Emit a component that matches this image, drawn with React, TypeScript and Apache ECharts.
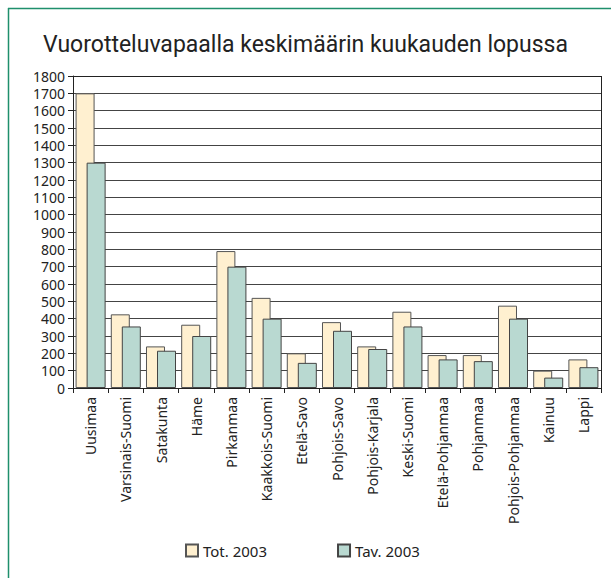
import React, { useEffect, useRef } from "react";
import * as echarts from "echarts";

const categories = [
  "Uusimaa", "Varsinais-Suomi", "Satakunta", "Häme", "Pirkanmaa", "Kaakkois-Suomi",
  "Etelä-Savo", "Pohjois-Savo", "Pohjois-Karjala", "Keski-Suomi", "Etelä-Pohjanmaa",
  "Pohjanmaa", "Pohjois-Pohjanmaa", "Kainuu", "Lappi",
];
const tot2003 = [1700, 425, 240, 365, 790, 520, 200, 380, 240, 440, 190, 190, 475, 100, 165];
const tav2003 = [1300, 355, 215, 300, 700, 400, 145, 330, 225, 355, 165, 155, 400, 60, 120];
const seriesNames = ["Tot. 2003", "Tav. 2003"];
const title = "Vuorotteluvapaalla keskimäärin kuukauden lopussa";

const FONT = "Noto Sans";

export default function App() {
  const ref = useRef<HTMLDivElement>(null);
  useEffect(() => {
    if (!ref.current) return;
    const chart = echarts.init(ref.current, undefined, { renderer: "svg" });
    chart.setOption({
      animation: false,
      backgroundColor: "#ffffff",
      title: {
        text: title,
        left: "center",
        top: 28,
        textStyle: { fontFamily: "Roboto", fontSize: 23, fontWeight: "normal", color: "#222" },
      },
      graphic: [
        { type: "line", shape: { x1: 8, y1: 8.5, x2: 611, y2: 8.5 }, style: { stroke: "#1f8f6c", lineWidth: 1.5 } },
        { type: "line", shape: { x1: 8.5, y1: 8, x2: 8.5, y2: 578 }, style: { stroke: "#1f8f6c", lineWidth: 1.5 } },
      ],
      legend: {
        data: seriesNames,
        left: 180,
        top: 538,
        icon: "rect",
        itemWidth: 12,
        itemHeight: 12,
        itemGap: 70,
        textStyle: { fontFamily: FONT, fontSize: 15, color: "#222" },
      },
      grid: { left: 73, right: 10, top: 76, bottom: 190, containLabel: false },
      xAxis: {
        type: "category",
        data: categories,
        axisLine: { lineStyle: { color: "#222", width: 1 } },
        axisTick: { show: true, length: 5, lineStyle: { color: "#222" } },
        axisLabel: { rotate: 90, margin: 9, fontFamily: FONT, fontSize: 14, color: "#222", interval: 0 },
      },
      yAxis: {
        type: "value",
        min: 0,
        max: 1800,
        interval: 100,
        axisLine: { show: true, lineStyle: { color: "#222", width: 1 } },
        axisTick: { show: true, length: 5, lineStyle: { color: "#222" } },
        axisLabel: {
          fontFamily: FONT,
          fontSize: 14,
          lineHeight: 14,
          color: "#222",
          margin: 8,
          formatter: (v: number) => String(v),
        },
        splitLine: { show: true, lineStyle: { color: "#444", width: 1 } },
      },
      series: [
        {
          name: seriesNames[0],
          type: "bar",
          data: tot2003,
          barWidth: 19,
          barGap: "-42%",
          itemStyle: { color: "#fff0d0", borderColor: "#555", borderWidth: 1 },
        },
        {
          name: seriesNames[1],
          type: "bar",
          data: tav2003,
          barWidth: 19,
          itemStyle: { color: "#b9d9d1", borderColor: "#444", borderWidth: 1 },
        },
      ],
    });
    return () => chart.dispose();
  }, []);
  return (
    <div style={{ position: "fixed", left: 0, top: 0, width: 611, height: 578 }}>
      <div ref={ref} style={{ width: 611, height: 578 }} />
      <div
        style={{
          position: "absolute",
          left: 73,
          top: 76,
          width: 529,
          height: 312,
          border: "1px solid #222",
          borderLeft: "none",
          borderBottom: "none",
          boxSizing: "border-box",
          pointerEvents: "none",
        }}
      />
    </div>
  );
}
